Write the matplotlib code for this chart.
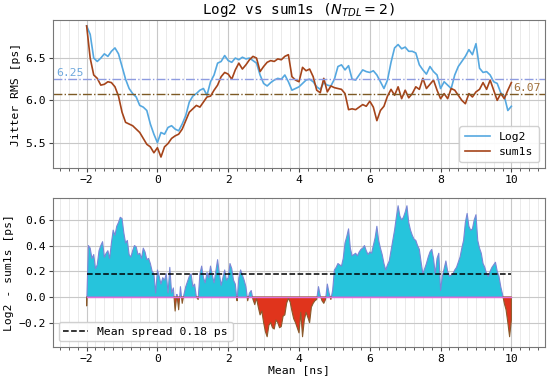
import numpy as np
import matplotlib
matplotlib.use("Agg")
import matplotlib.pyplot as plt
from matplotlib.ticker import MultipleLocator

ARQUIVO = "out.png"

# jitter RMS, amostras a cada 0.1 ns de -2 a 10
t_start, t_stop = -2.0, 10.0
log2_rms = [
    6.88, 6.78, 6.50, 6.46, 6.50, 6.55, 6.52, 6.58, 6.62, 6.55,
    6.40, 6.25, 6.14, 6.08, 6.04, 5.94, 5.92, 5.88, 5.72, 5.60,
    5.50, 5.62, 5.60, 5.68, 5.70, 5.66, 5.64, 5.72, 5.82, 5.98,
    6.05, 6.08, 6.12, 6.14, 6.06, 6.22, 6.30, 6.44, 6.46, 6.53,
    6.47, 6.45, 6.50, 6.48, 6.51, 6.49, 6.50, 6.47, 6.44, 6.30,
    6.20, 6.17, 6.21, 6.24, 6.26, 6.25, 6.30, 6.22, 6.12, 6.14,
    6.16, 6.20, 6.24, 6.25, 6.22, 6.16, 6.13, 6.21, 6.18, 6.17,
    6.25, 6.40, 6.42, 6.36, 6.41, 6.25, 6.24, 6.30, 6.36, 6.34,
    6.33, 6.35, 6.30, 6.22, 6.14, 6.24, 6.45, 6.62, 6.66, 6.61,
    6.63, 6.58, 6.58, 6.56, 6.42, 6.36, 6.31, 6.40, 6.34, 6.30,
    6.14, 6.22, 6.18, 6.14, 6.30, 6.40, 6.46, 6.52, 6.60, 6.54,
    6.67, 6.38, 6.33, 6.34, 6.30, 6.22, 6.20, 6.09, 6.05, 5.88,
    5.93,
]
sum1s_rms = [
    6.88, 6.50, 6.30, 6.26, 6.18, 6.19, 6.22, 6.21, 6.16, 6.05,
    5.86, 5.74, 5.72, 5.70, 5.66, 5.62, 5.55, 5.48, 5.45, 5.38,
    5.44, 5.33, 5.45, 5.49, 5.55, 5.58, 5.60, 5.66, 5.76, 5.86,
    5.90, 5.94, 5.92, 5.98, 6.04, 6.05, 6.12, 6.18, 6.28, 6.33,
    6.31, 6.25, 6.36, 6.44, 6.37, 6.42, 6.48, 6.52, 6.50, 6.34,
    6.40, 6.45, 6.47, 6.46, 6.49, 6.48, 6.52, 6.54, 6.28, 6.24,
    6.22, 6.39, 6.35, 6.37, 6.28, 6.12, 6.09, 6.26, 6.10, 6.17,
    6.15, 6.14, 6.13, 6.08, 5.89, 5.90, 5.89, 5.92, 5.95, 5.93,
    5.99, 5.92, 5.76, 5.88, 5.93, 6.05, 6.13, 6.06, 6.16, 6.02,
    6.12, 6.03, 6.08, 6.16, 6.13, 6.26, 6.14, 6.19, 6.24, 6.12,
    6.02, 6.08, 6.02, 6.14, 6.12, 6.06, 6.00, 5.96, 6.08, 6.04,
    6.10, 6.13, 6.21, 6.13, 6.24, 6.12, 6.00, 6.08, 6.02, 6.12,
    6.21,
]
log2_mean = 6.25
sum1s_mean = 6.07

# diferenca Log2 - sum1s, amostras a cada 0.05 ns
spread = [
    -0.07, 0.40, 0.38, 0.30, 0.33, 0.22, 0.25, 0.36, 0.40, 0.43, 0.31, 0.34, 0.36, 0.30, 0.42, 0.52, 0.48, 0.55, 0.58, 0.62,
    0.61, 0.50, 0.42, 0.44, 0.33, 0.31, 0.36, 0.40, 0.39, 0.33, 0.34, 0.30, 0.38, 0.35, 0.29, 0.30, 0.26, 0.20, 0.18, 0.03,
    0.21, 0.16, 0.10, 0.15, 0.13, 0.18, 0.03, 0.23, 0.03, 0.07, -0.11, 0.02, -0.10, 0.08, -0.05, 0.02, 0.08, 0.12, 0.16, 0.18,
    0.08, 0.10, 0.00, -0.02, 0.18, 0.24, 0.15, 0.11, 0.19, 0.15, 0.24, 0.17, 0.11, 0.20, 0.29, 0.18, 0.09, 0.15, 0.21, 0.13,
    0.15, 0.26, 0.22, 0.13, 0.10, -0.03, 0.15, 0.21, 0.17, 0.13, 0.08, -0.03, 0.03, 0.05, -0.02, -0.06, -0.01, -0.08, -0.14, -0.11,
    -0.20, -0.27, -0.31, -0.22, -0.20, -0.24, -0.25, -0.18, -0.20, -0.24, -0.23, -0.15, -0.14, -0.05, -0.01, -0.04, -0.11, -0.17, -0.20, -0.24,
    -0.28, -0.12, -0.31, -0.18, -0.12, -0.16, -0.20, -0.08, -0.05, -0.03, -0.02, 0.08, 0.01, -0.03, -0.05, -0.02, 0.10, 0.03, -0.02, 0.05,
    0.21, 0.23, 0.26, 0.25, 0.24, 0.30, 0.42, 0.47, 0.53, 0.38, 0.32, 0.33, 0.34, 0.32, 0.35, 0.37, 0.38, 0.40, 0.36, 0.33,
    0.35, 0.34, 0.40, 0.46, 0.55, 0.44, 0.38, 0.33, 0.26, 0.21, 0.25, 0.28, 0.36, 0.44, 0.52, 0.62, 0.71, 0.63, 0.60, 0.62,
    0.66, 0.71, 0.58, 0.52, 0.48, 0.45, 0.44, 0.40, 0.37, 0.27, 0.18, 0.22, 0.26, 0.31, 0.35, 0.37, 0.30, 0.18, 0.30, 0.34,
    0.05, 0.16, 0.22, 0.28, 0.20, 0.16, 0.17, 0.18, 0.21, 0.23, 0.27, 0.31, 0.38, 0.44, 0.58, 0.65, 0.55, 0.52, 0.53, 0.60,
    0.64, 0.44, 0.38, 0.34, 0.26, 0.23, 0.18, 0.16, 0.20, 0.23, 0.25, 0.27, 0.20, 0.16, 0.08, 0.02, -0.05, -0.10, -0.20, -0.31,
    -0.18,
]
mean_spread = 0.18

COR_LOG2 = "#55a8e0"
COR_SUM1S = "#a5441a"

plt.rcParams["font.family"] = ["DejaVu Sans Mono"]
plt.rcParams["font.size"] = 8.2

t_top = np.linspace(t_start, t_stop, len(log2_rms))
t_bot = np.linspace(t_start, t_stop, len(spread))
spread = np.array(spread)

fig = plt.figure(figsize=(5.5, 3.79), dpi=100)
ax1 = fig.add_axes([0.0964, 0.5567, 0.8945, 0.3905])
ax2 = fig.add_axes([0.0964, 0.0844, 0.8945, 0.3931])

for ax in (ax1, ax2):
    ax.set_xlim(-2.95, 10.95)
    ax.xaxis.set_major_locator(MultipleLocator(2))
    ax.xaxis.set_minor_locator(MultipleLocator(0.25))
    ax.grid(True, which="major", color="#c8c8c8", lw=0.8)
    ax.grid(True, which="minor", axis="x", color="#e6e6e6", lw=0.6)
    ax.set_axisbelow(True)
    for s in ax.spines.values():
        s.set_color("#777777")
    ax.tick_params(which="both", colors="#444444", labelcolor="black", pad=2)
    ax.tick_params(which="major", labelsize=8.2, length=3)
    ax.tick_params(which="minor", length=1.8)

# painel de cima
ax1.plot(t_top, log2_rms, color=COR_LOG2, lw=1.2, label="Log2")
ax1.plot(t_top, sum1s_rms, color=COR_SUM1S, lw=1.2, label="sum1s")
ax1.axhline(log2_mean, color="#8e9be0", ls="-.", lw=1.0)
ax1.axhline(sum1s_mean, color="#7d5a24", ls="-.", lw=1.0)
ax1.text(-2.85, log2_mean + 0.02, f"{log2_mean:.2f}", color="#6fa8dc", va="bottom")
ax1.text(10.04, sum1s_mean + 0.02, f"{sum1s_mean:.2f}", color="#a0703c", va="bottom")
ax1.set_ylim(5.2, 6.95)
ax1.yaxis.set_major_locator(MultipleLocator(0.5))
ax1.set_ylabel("Jitter RMS [ps]", labelpad=3)
ax1.set_title(r"Log2 vs sum1s ($N_{TDL} = 2$)", fontsize=10.3, pad=4)
ax1.legend(loc="lower right", framealpha=0.9, handlelength=2.2, fontsize=8.2,
           borderpad=0.5, labelspacing=0.4)

# painel de baixo
ax2.fill_between(t_bot, 0, spread, where=spread >= 0, interpolate=True,
                 facecolor="#26c4dc", edgecolor="#7b86d6", lw=0.8)
ax2.fill_between(t_bot, 0, spread, where=spread <= 0, interpolate=True,
                 facecolor="#e0341c", edgecolor="#8b5a2b", lw=0.8)
ax2.plot([t_start, t_stop], [0, 0], color="#e070d8", lw=1.0)
ax2.plot([t_start, t_stop], [mean_spread, mean_spread], color="black", ls="--", lw=1.1,
         label=f"Mean spread {mean_spread:.2f} ps")
ax2.set_ylim(-0.39, 0.77)
ax2.yaxis.set_major_locator(MultipleLocator(0.2))
ax2.set_ylabel("Log2 - sum1s [ps]", labelpad=3)
ax2.set_xlabel("Mean [ns]", labelpad=1)
ax2.legend(loc="lower left", framealpha=0.9, handlelength=2.2, fontsize=8.2,
           borderpad=0.4)

fig.savefig(ARQUIVO, dpi=100)
plt.close(fig)
